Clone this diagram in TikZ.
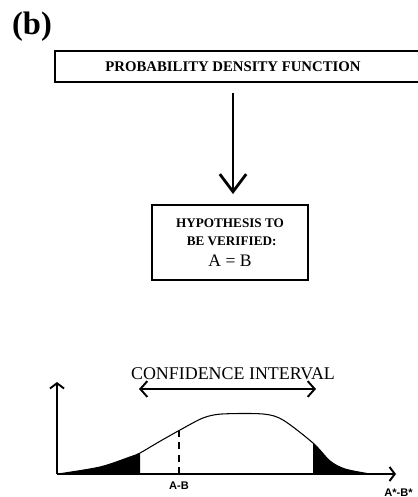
\documentclass[tikz,border=0pt]{standalone}
\usepackage{fontspec}
\setmainfont{Liberation Serif}
\setsansfont{Liberation Sans}
\usetikzlibrary{arrows.meta, positioning, calc}
\colorlet{colLinea}{black}
\tikzset{
  cajaBase/.style={
    draw=colLinea, line width=1.1pt, inner sep=0pt,
    align=center, text=colLinea, fill=white
  },
  flecha/.style={-{Straight Barb[length=10pt, width=15pt, line width=1.6pt]},
    line width=1.6pt, colLinea},
  flechaDoble/.style={{Straight Barb[length=4pt, width=9pt]}-{Straight Barb[length=4pt, width=9pt]},
    line width=1.1pt, colLinea},
  eje/.style={-{Straight Barb[length=3pt, width=8pt]}, line width=1.1pt, colLinea},
  etiquetaEje/.style={font=\sffamily\bfseries\fontsize{6.3}{7}\selectfont, inner sep=0pt},
}

\begin{document}
\begin{tikzpicture}[x=0.02cm, y=-0.02cm]
    \useasboundingbox (0,0) rectangle (418,497);

    % panel letter
    \node[font=\bfseries\fontsize{18.5}{19}\selectfont, inner sep=0pt] (letra) at (32,27) {(b)};

    % top box (runs off the right edge)
    \node[cajaBase, anchor=west, minimum width=7.6cm, minimum height=0.62cm]
      (cajaPDF) at (54,66.5) {};
    \node[font=\bfseries\fontsize{8.4}{9}\selectfont, inner sep=0pt] (textoPDF) at (233,66.5)
      {PROBABILITY DENSITY FUNCTION};

    % hypothesis box
    \node[cajaBase, minimum width=3.12cm, minimum height=1.5cm,
          font=\fontsize{7.5}{10.5}\selectfont] (cajaHipotesis) at (230,242.5)
      {\bfseries HYPOTHESIS TO\\\bfseries\ BE VERIFIED:\\[1pt]
       \fontsize{10}{10}\selectfont A = B};

    \draw[flecha, shorten <=5.7pt, shorten >=5.7pt]
      (cajaPDF.south -| textoPDF) -- (cajaHipotesis.north -| textoPDF);

    % confidence interval
    \node[font=\fontsize{10.2}{11}\selectfont, inner sep=0pt] (textoIC) at (233,374)
      {CONFIDENCE INTERVAL};
    \coordinate (icIzq) at (139,389);
    \coordinate (icDer) at (316,389);
    \draw[flechaDoble] (icIzq) -- (icDer);

    % axes
    \coordinate (origen) at (57,474);
    \coordinate (ejeY) at (57,382);
    \coordinate (ejeX) at (396,474);
    \draw[eje] (origen) -- (ejeY);
    \draw[eje] (origen) -- (ejeX);

    % shaded tails
    \begin{scope}
      \clip (0,0) rectangle (140,497) (313,0) rectangle (420,497);
      \fill[colLinea] plot[smooth] coordinates {(58,474) (100,467) (130,457) (140,453)
        (157,443) (180,430) (203,418) (222,414) (263,414) (283,420) (313,443)
        (330,461) (345,469) (370,474)} -- cycle;
    \end{scope}

    % density curve
    \draw[colLinea, line width=0.6pt] plot[smooth] coordinates {(58,474) (100,467) (130,457) (140,453)
        (157,443) (180,430) (203,418) (222,414) (263,414) (283,420) (313,443)
        (330,461) (345,469) (370,474)};

    \coordinate (puntoAB) at (179,474);
    \coordinate (curvaAB) at (179,431);
    \draw[dashed, line width=1.1pt, dash pattern=on 4pt off 3pt] (puntoAB) -- (curvaAB);

    \node[etiquetaEje] (etiqAB) at (179,486) {A-B};
    \node[etiquetaEje, anchor=west] (etiqAsBs) at (384,493) {A*-B*};
\end{tikzpicture}
\end{document}
